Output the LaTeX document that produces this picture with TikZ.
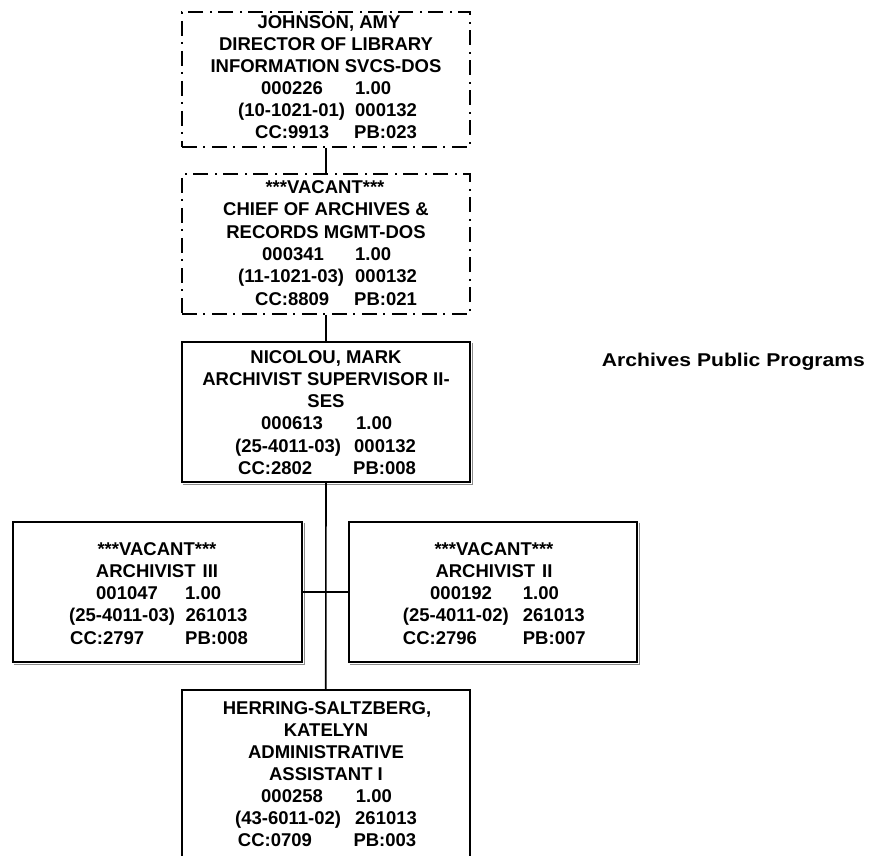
\documentclass[tikz,border=0pt]{standalone}
\usepackage{fontspec}
\usepackage{graphicx}
\usetikzlibrary{calc}
\setmainfont{Liberation Sans}
\tikzset{
  solidbox/.style={draw, line width=2pt, inner sep=0pt, rectangle},
  dashbox/.style={draw, line width=1.8pt, inner sep=0pt, rectangle, dash pattern=on 15pt off 6pt on 2pt off 7pt},
  txt/.style={inner sep=0pt, font=\fontsize{18.5}{22}\selectfont\bfseries},
  conn/.style={line width=1.6pt},
  shadowline/.style={draw=black!45, line width=1pt},
}
\newcommand\ctr[4]{\node[txt, anchor=base] (#1) at (#2,#3) {#4};}
\newcommand\lft[4]{\node[txt, anchor=base west] (#1) at (#2,#3) {#4};}
\newcommand\boxshadow[1]{\draw[shadowline] ($(#1.south west)+(1.5,1.5)$) -- ($(#1.south east)+(1.5,1.5)$) -- ($(#1.north east)+(1.5,1.5)$);}
\begin{document}
\begin{tikzpicture}[x=1pt,y=-1pt]
\clip (0,0) rectangle (871,856);
\fill[white] (0,0) rectangle (871,856);
% boxes
\node[dashbox, minimum width=288pt, minimum height=135pt] (b1) at (326,79.5) {};
\node[dashbox, minimum width=288pt, minimum height=140pt] (b2) at (326,244) {};
\node[solidbox, minimum width=288pt, minimum height=140pt] (b3) at (326,412) {};
\node[solidbox, minimum width=289pt, minimum height=139.5pt] (lb) at (157.8,591.75) {};
\node[solidbox, minimum width=288pt, minimum height=139.5pt] (rb) at (493.3,591.75) {};
\node[solidbox, minimum width=287.5pt, minimum height=180pt] (b4) at (325.75,780) {};
\boxshadow{b3}
\boxshadow{lb}
\boxshadow{rb}
% connectors
\draw[conn] (b1.south) -- (b2.north);
\draw[conn] (b2.south) -- (b3.north);
\draw[conn] (b3.south) -- (b4.north);
\draw[conn] (lb.east) -- (rb.west);
% box 1
\ctr{t11}{329}{28.8}{JOHNSON, AMY}
\ctr{t12}{326}{50.8}{DIRECTOR OF LIBRARY}
\ctr{t13}{326}{72.8}{INFORMATION SVCS-DOS}
\lft{t14a}{261}{94.8}{000226}\lft{t14b}{355}{94.8}{1.00}
\lft{t15a}{238}{116.8}{(10-1021-01)}\lft{t15b}{355}{116.8}{000132}
\lft{t16a}{255}{138.8}{CC:9913}\lft{t16b}{354}{138.8}{PB:023}
% box 2
\ctr{t21}{325}{193.5}{***VACANT***}
\ctr{t22}{326}{215.8}{CHIEF OF ARCHIVES \&}
\ctr{t23}{326}{238.1}{RECORDS MGMT-DOS}
\lft{t24a}{262}{260.4}{000341}\lft{t24b}{355}{260.4}{1.00}
\lft{t25a}{238}{282.7}{(11-1021-03)}\lft{t25b}{355}{282.7}{000132}
\lft{t26a}{255}{305}{CC:8809}\lft{t26b}{354}{305}{PB:021}
% box 3
\ctr{t31}{326}{363.3}{NICOLOU, MARK}
\ctr{t32}{326}{385.5}{ARCHIVIST SUPERVISOR II-}
\ctr{t33}{326}{407.7}{SES}
\lft{t34a}{261}{429.9}{000613}\lft{t34b}{356}{429.9}{1.00}
\lft{t35a}{235}{452.1}{(25-4011-03)}\lft{t35b}{354}{452.1}{000132}
\lft{t36a}{238}{474.3}{CC:2802}\lft{t36b}{353}{474.3}{PB:008}
% left box
\ctr{l1}{157}{555}{***VACANT***}
\ctr{l2}{157}{577.3}{ARCHIVIST\hspace{7pt}III}
\lft{l3a}{96}{599.5}{001047}\lft{l3b}{185}{599.5}{1.00}
\lft{l4a}{69}{621.8}{(25-4011-03)}\lft{l4b}{185.5}{621.8}{261013}
\lft{l5a}{70}{644}{CC:2797}\lft{l5b}{185}{644}{PB:008}
% right box
\ctr{r1}{494}{555}{***VACANT***}
\ctr{r2}{494}{577.3}{ARCHIVIST\hspace{7pt}II}
\lft{r3a}{430}{599.5}{000192}\lft{r3b}{522.7}{599.5}{1.00}
\lft{r4a}{402.7}{621.8}{(25-4011-02)}\lft{r4b}{522.7}{621.8}{261013}
\lft{r5a}{402.7}{644}{CC:2796}\lft{r5b}{522.7}{644}{PB:007}
% bottom box
\ctr{t41}{327}{714}{HERRING-SALTZBERG,}
\ctr{t42}{326}{736.1}{KATELYN}
\ctr{t43}{326}{758.2}{ADMINISTRATIVE}
\ctr{t44}{326}{780.3}{ASSISTANT I}
\lft{t45a}{261}{802.4}{000258}\lft{t45b}{355.7}{802.4}{1.00}
\lft{t46a}{235}{824.5}{(43-6011-02)}\lft{t46b}{355}{824.5}{261013}
\lft{t47a}{237.7}{846.6}{CC:0709}\lft{t47b}{353.3}{846.6}{PB:003}
% title
\node[txt, anchor=base west] (title) at (601.7,366) {\resizebox{263pt}{\height}{Archives Public Programs}};
\end{tikzpicture}
\end{document}
